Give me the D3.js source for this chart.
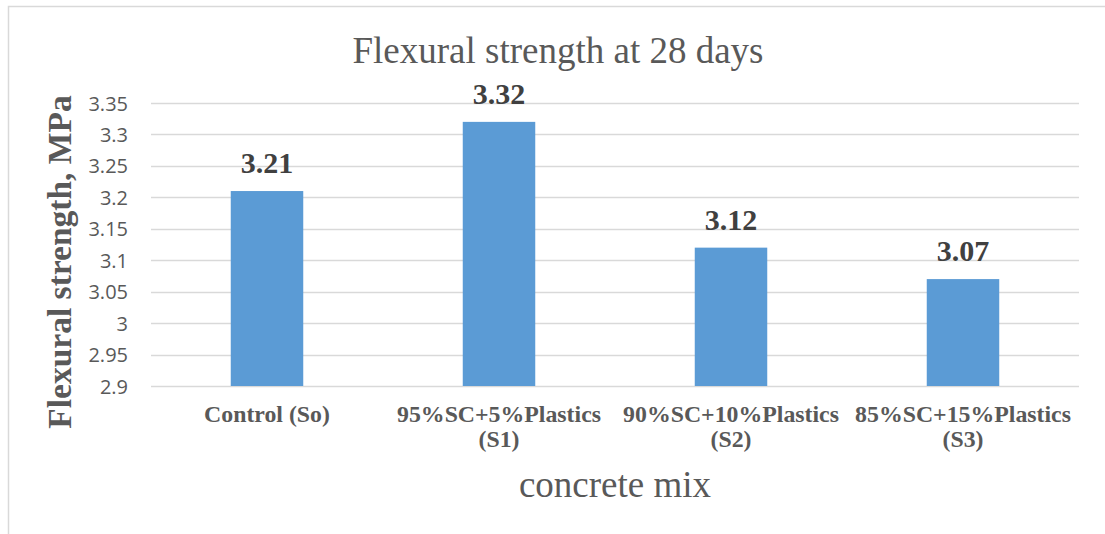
<!DOCTYPE html>
<html>
<head>
<meta charset="utf-8">
<script src="https://cdn.jsdelivr.net/npm/d3@7"></script>
<style>
  html, body { margin: 0; padding: 0; background: #fff; }
  svg { display: block; }
</style>
</head>
<body>
<svg id="chart" width="1105" height="534"></svg>
<script>
// Flexural strength at 28 days for each concrete mix
const categories = [
  ["Control (So)"],
  ["95%SC+5%Plastics", "(S1)"],
  ["90%SC+10%Plastics", "(S2)"],
  ["85%SC+15%Plastics", "(S3)"]
];
const strengths = [3.21, 3.32, 3.12, 3.07];
const yTicks = [2.9, 2.95, 3, 3.05, 3.1, 3.15, 3.2, 3.25, 3.3, 3.35];

const svg = d3.select("#chart");
const W = 1105, H = 534;
const plot = { left: 151, right: 1079, top: 103, bottom: 386 };

const serif = "'Liberation Serif', 'Times New Roman', serif";
const sans = "'Open Sans', 'Noto Sans', sans-serif";

// chart frame
svg.append("rect")
  .attr("x", 8.5).attr("y", 6.5)
  .attr("width", W + 10).attr("height", H + 10)
  .attr("fill", "#fff").attr("stroke", "#d9d9d9").attr("stroke-width", 1.5);

const x = d3.scaleBand()
  .domain(d3.range(categories.length))
  .range([plot.left, plot.right])
  .paddingInner(0.6875).paddingOuter(0.34375);

const y = d3.scaleLinear()
  .domain([2.9, 3.35])
  .range([plot.bottom, plot.top]);

// horizontal gridlines
svg.append("g")
  .selectAll("line")
  .data(yTicks)
  .join("line")
  .attr("x1", plot.left).attr("x2", plot.right)
  .attr("y1", d => Math.round(y(d)) + 0.5)
  .attr("y2", d => Math.round(y(d)) + 0.5)
  .attr("stroke", "#d9d9d9").attr("stroke-width", 1.3);

// y axis tick labels
const yAxis = d3.axisLeft(y).tickValues(yTicks).tickSize(0).tickPadding(0)
  .tickFormat(d => d3.format("~g")(d));
const gy = svg.append("g").attr("transform", `translate(128,0)`).call(yAxis);
gy.select(".domain").remove();
gy.selectAll("text")
  .attr("font-family", sans).attr("font-size", 20).attr("fill", "#595959")
  .attr("dy", "0.35em");

// bars
svg.append("g")
  .selectAll("rect")
  .data(strengths)
  .join("rect")
  .attr("x", (d, i) => x(i))
  .attr("width", x.bandwidth())
  .attr("y", d => y(d))
  .attr("height", d => y(2.9) - y(d))
  .attr("fill", "#5b9bd5");

// value labels
svg.append("g")
  .selectAll("text")
  .data(strengths)
  .join("text")
  .attr("x", (d, i) => x(i) + x.bandwidth() / 2)
  .attr("y", d => y(d) - 18)
  .attr("text-anchor", "middle")
  .attr("font-family", serif).attr("font-weight", "bold")
  .attr("font-size", 30).attr("fill", "#404040")
  .text(d => d3.format(".2f")(d));

// category labels
const xl = svg.append("g")
  .selectAll("text")
  .data(categories)
  .join("text")
  .attr("x", (d, i) => x(i) + x.bandwidth() / 2)
  .attr("y", 422)
  .attr("text-anchor", "middle")
  .attr("font-family", serif).attr("font-weight", "bold")
  .attr("font-size", 23.8).attr("fill", "#595959");
xl.selectAll("tspan")
  .data(d => d)
  .join("tspan")
  .attr("x", function () { return d3.select(this.parentNode).attr("x"); })
  .attr("dy", (d, j) => j === 0 ? 0 : 25)
  .text(d => d);

// title
svg.append("text")
  .attr("x", 558).attr("y", 63)
  .attr("text-anchor", "middle")
  .attr("font-family", serif).attr("font-size", 37).attr("fill", "#595959")
  .text("Flexural strength at 28 days");

// x axis title
svg.append("text")
  .attr("x", (plot.left + plot.right) / 2).attr("y", 497)
  .attr("text-anchor", "middle")
  .attr("font-family", serif).attr("font-size", 37).attr("fill", "#595959")
  .text("concrete mix");

// y axis title
svg.append("text")
  .attr("transform", `translate(71,262) rotate(-90)`)
  .attr("text-anchor", "middle")
  .attr("font-family", serif).attr("font-weight", "bold")
  .attr("font-size", 33.5).attr("fill", "#595959")
  .text("Flexural strength, MPa");
</script>
</body>
</html>
